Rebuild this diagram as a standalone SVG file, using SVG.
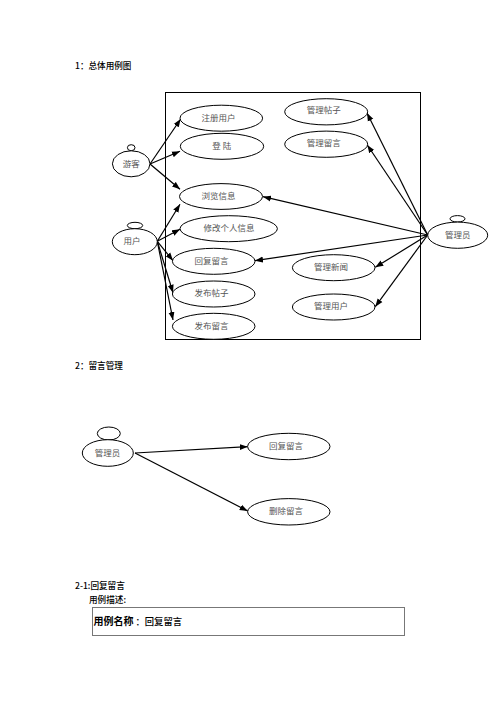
<svg xmlns="http://www.w3.org/2000/svg" width="496" height="702" viewBox="0 0 496 702">
<style>
text{font-family:"Noto Sans CJK SC","Liberation Sans",sans-serif}
.n{font-size:8.5px;fill:#555;text-anchor:middle;font-weight:400}
.h{font-size:8.6px;fill:#000;font-weight:500}
ellipse{fill:#fff;stroke:#000;stroke-width:1}
#connectors line{stroke:#000;stroke-width:1.2;marker-end:url(#a)}
</style>
<defs>
<marker id="a" markerUnits="userSpaceOnUse" markerWidth="9" markerHeight="7" refX="8" refY="3.5" orient="auto"><path d="M0 .5L8 3.5L0 6.5z" fill="#000"/></marker>
</defs>
<rect width="496" height="702" fill="#fff"/>
<text class="h" x="75" y="68.5">1：总体用例图</text>
<rect id="system" x="165.5" y="92.5" width="255" height="247" fill="#fff" stroke="#000" stroke-width="1"/>
<g id="connectors">
<line x1="150" y1="164" x2="180.7" y2="119"/>
<line x1="150" y1="164" x2="180" y2="151.3"/>
<line x1="150" y1="164" x2="180" y2="189.3"/>
<line x1="157.3" y1="241.3" x2="180" y2="204.3"/>
<line x1="157.3" y1="241.3" x2="180" y2="229.3"/>
<line x1="157.3" y1="241.3" x2="173" y2="260.7"/>
<line x1="157.3" y1="241.3" x2="173" y2="292.7"/>
<line x1="157.3" y1="241.3" x2="173" y2="320"/>
<line x1="427.7" y1="235" x2="367" y2="113"/>
<line x1="427.7" y1="235" x2="367.3" y2="145"/>
<line x1="427.7" y1="235" x2="263" y2="196.7"/>
<line x1="427.7" y1="235" x2="255" y2="260.7"/>
<line x1="427.7" y1="235" x2="375.3" y2="267.3"/>
<line x1="427.7" y1="235" x2="375.3" y2="306.7"/>
<line x1="135" y1="453" x2="247.7" y2="446.7"/>
<line x1="135" y1="453" x2="247.7" y2="511"/>
</g>
<g id="guest"><ellipse cx="131.2" cy="147.7" rx="3.8" ry="3"/><ellipse cx="131.2" cy="163.8" rx="18.8" ry="13"/><text class="n" x="131.2" y="166.5">游客</text></g>
<g id="user"><ellipse cx="135" cy="225.5" rx="7.7" ry="3.2"/><ellipse cx="134.8" cy="241.7" rx="22.5" ry="13"/><text class="n" x="132" y="244">用户</text></g>
<g id="admin"><ellipse cx="457.5" cy="218.8" rx="7.5" ry="3.2"/><ellipse cx="457.7" cy="235.2" rx="30" ry="13.1"/><text class="n" x="457.7" y="237.5">管理员</text></g>
<g id="uc-register"><ellipse cx="221.3" cy="118.2" rx="41.3" ry="13"/><text class="n" x="218.5" y="120.5">注册用户</text></g>
<g id="uc-login"><ellipse cx="222" cy="146.3" rx="41.7" ry="13"/><text class="n" x="221.7" y="148.8">登 陆</text></g>
<g id="uc-browse"><ellipse cx="221" cy="196.5" rx="41.5" ry="12.9"/><text class="n" x="218.5" y="198.8">浏览信息</text></g>
<g id="uc-profile"><ellipse cx="228.7" cy="228.7" rx="48.7" ry="13"/><text class="n" x="229" y="231">修改个人信息</text></g>
<g id="uc-reply"><ellipse cx="213.7" cy="261.3" rx="41.3" ry="13"/><text class="n" x="211.5" y="263.7">回复留言</text></g>
<g id="uc-post"><ellipse cx="213.7" cy="294" rx="41.3" ry="13"/><text class="n" x="211.5" y="296.3">发布帖子</text></g>
<g id="uc-message"><ellipse cx="213.7" cy="326.3" rx="41.3" ry="13"/><text class="n" x="211.5" y="328.7">发布留言</text></g>
<g id="uc-manage-post"><ellipse cx="326.2" cy="111.8" rx="41.5" ry="13.1"/><text class="n" x="323.7" y="113">管理帖子</text></g>
<g id="uc-manage-msg"><ellipse cx="326.2" cy="144.2" rx="41.5" ry="13.1"/><text class="n" x="323.7" y="146">管理留言</text></g>
<g id="uc-manage-news"><ellipse cx="333.7" cy="267.7" rx="41.3" ry="13"/><text class="n" x="331" y="269.5">管理新闻</text></g>
<g id="uc-manage-user"><ellipse cx="333.7" cy="307" rx="41.3" ry="13"/><text class="n" x="331" y="309">管理用户</text></g>
<text class="h" x="75" y="368.5">2：留言管理</text>
<g id="admin2"><ellipse cx="108.8" cy="433.5" rx="11.5" ry="6.5"/><ellipse cx="107.8" cy="453" rx="25.5" ry="13.3"/><text class="n" x="107.5" y="455.5">管理员</text></g>
<g id="uc-reply2"><ellipse cx="288.8" cy="446.5" rx="41.2" ry="13.2"/><text class="n" x="286" y="448.5">回复留言</text></g>
<g id="uc-delete"><ellipse cx="288.8" cy="511.8" rx="41.2" ry="13.2"/><text class="n" x="286" y="514">删除留言</text></g>
<text class="h" x="75" y="588.5">2-1:回复留言</text>
<text class="h" x="89" y="602.5">用例描述:</text>
<g id="table"><rect x="92.5" y="607.5" width="312" height="28" fill="#fff" stroke="#777" stroke-width="1"/>
<text x="93.5" y="624.5" font-size="10" font-weight="700" fill="#000">用例名称<tspan font-size="9.3" font-weight="500" dx="2">：回复留言</tspan></text></g>
</svg>
